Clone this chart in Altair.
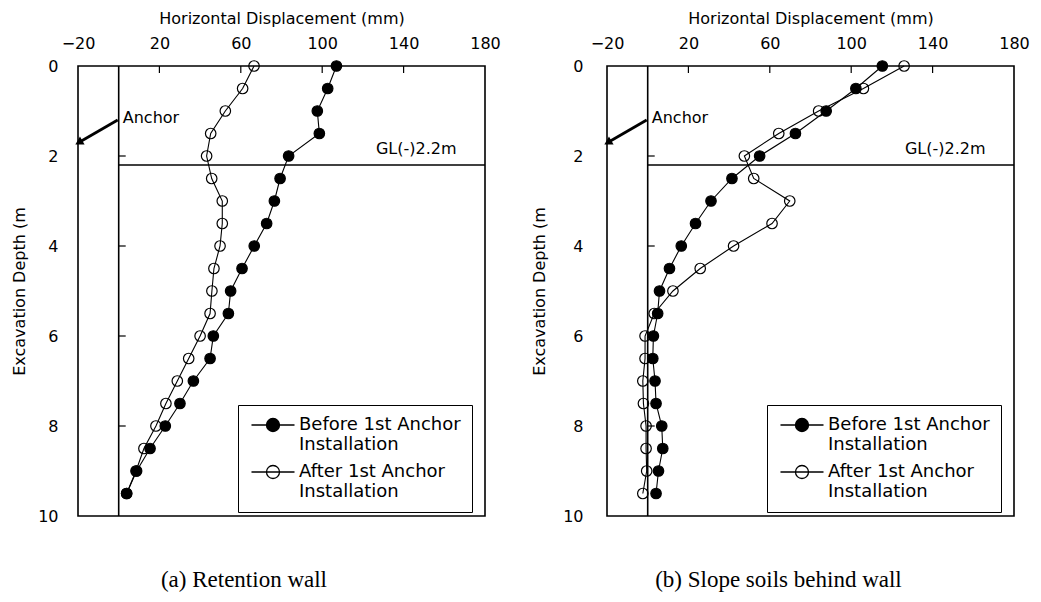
import altair as alt
import pandas as pd

# Depth of each inclinometer reading (m)
depth = [0.0, 0.5, 1.0, 1.5, 2.0, 2.5, 3.0, 3.5, 4.0, 4.5,
         5.0, 5.5, 6.0, 6.5, 7.0, 7.5, 8.0, 8.5, 9.0, 9.5]

# Horizontal displacement (mm) -- retention wall
wall_before = [107.0, 102.7, 97.6, 98.6, 83.5, 79.3, 76.5, 72.7, 66.6, 60.6,
               55.0, 53.9, 46.5, 44.9, 36.7, 30.1, 22.9, 15.4, 8.8, 3.9]
wall_after = [66.5, 60.9, 52.4, 45.2, 43.2, 45.7, 50.9, 50.9, 49.8, 46.8,
              45.8, 44.9, 40.0, 34.4, 28.8, 23.2, 18.3, 12.4, 8.5, 3.9]

# Horizontal displacement (mm) -- slope soils behind the wall
slope_before = [115.3, 102.3, 87.7, 72.6, 55.0, 41.4, 31.1, 23.5, 16.5, 10.7,
                5.8, 4.9, 2.8, 2.5, 3.6, 4.1, 6.9, 7.4, 5.3, 4.1]
slope_after = [126.0, 106.0, 84.0, 64.4, 47.5, 52.1, 69.8, 61.1, 42.2, 25.8,
               12.4, 3.2, -1.3, -1.3, -2.4, -2.1, -0.8, -0.8, -0.5, -2.4]

series_names = ["Before 1st Anchor Installation", "After 1st Anchor Installation"]

x_labels = [-20, 20, 60, 100, 140, 180]
x_ticks = [20, 60, 100, 140]
y_labels = [0, 2, 4, 6, 8, 10]
y_ticks = [2, 4, 6, 8]

excavation_level = 2.2          # GL(-)2.2m
anchor_tail = (-0.5, 1.2)       # (displacement, depth)
anchor_tip = (-19.6, 1.70)
anchor_text_pos = (2.0, 1.16)
gl_text_pos = (166.0, 1.84)

FONT = "DejaVu Sans"
SYMBOL = "M-1,0L5.6,0M3.3,0A1,1,0,1,1,1.3,0A1,1,0,1,1,3.3,0Z"


def panel(before, after, caption, label_pad, title_pad, caption_dx):
    rows = []
    # open circles first so the filled ones sit on top
    for name, vals in ((series_names[1], after), (series_names[0], before)):
        for d, v in zip(depth, vals):
            rows.append({"series": name, "depth": d, "disp": v})
    df = pd.DataFrame(rows)

    xs = alt.Scale(domain=[-20, 180], nice=False, zero=False)
    ys = alt.Scale(domain=[0, 10], nice=False, reverse=True)

    x_axis = alt.Axis(orient="top", values=x_labels, format="d",
                      title="Horizontal Displacement (mm)",
                      labelPadding=15, titlePadding=9, labelFlush=False,
                      labelOverlap=False, ticks=False, domain=False, grid=False)
    y_axis = alt.Axis(values=y_labels, format="d", title="Excavation Depth (m",
                      labelPadding=label_pad, titlePadding=title_pad,
                      labelFlush=False, labelOverlap=False, ticks=False,
                      domain=False, grid=False, titleFontSize=16)

    lines = alt.Chart(df).mark_line(color="black", strokeWidth=1.1).encode(
        x=alt.X("disp:Q", scale=xs, axis=x_axis),
        y=alt.Y("depth:Q", scale=ys, axis=y_axis),
        detail="series:N",
        order="depth:Q",
    )

    points = alt.Chart(df).mark_point(
        color="black", size=110, strokeWidth=1.2, opacity=1
    ).encode(
        x="disp:Q",
        y="depth:Q",
        fill=alt.Fill(
            "series:N",
            scale=alt.Scale(domain=series_names, range=["black", "transparent"]),
            sort=series_names,
            legend=alt.Legend(
                title=None, orient="none", legendX=160, legendY=339,
                symbolType=SYMBOL, symbolSize=170, symbolStrokeColor="black",
                symbolStrokeWidth=1.3, symbolOpacity=1,
                labelExpr="[replace(datum.label, ' Installation', ''), 'Installation']",
                labelFont=FONT, labelFontSize=18,
                labelColor="black", labelOffset=32, labelLimit=400,
                labelBaseline="middle",
                rowPadding=8, padding=11, strokeColor="black",
                fillColor="white",
            ),
        ),
    )

    wall = alt.Chart(pd.DataFrame({"disp": [0], "depth": [0], "depth2": [10]})).mark_rule(
        color="black", strokeWidth=1.6
    ).encode(x="disp:Q", y="depth:Q", y2="depth2:Q")

    gl_line = alt.Chart(
        pd.DataFrame({"disp": [0], "disp2": [180], "depth": [excavation_level]})
    ).mark_rule(color="black", strokeWidth=1.5).encode(
        x="disp:Q", x2="disp2:Q", y="depth:Q"
    )

    top_ticks = alt.Chart(pd.DataFrame({"disp": x_ticks, "depth": [0] * len(x_ticks)})).mark_rule(
        color="black", strokeWidth=1.2, y2Offset=7
    ).encode(x="disp:Q", y="depth:Q", y2="depth:Q")

    wall_ticks = alt.Chart(pd.DataFrame({"disp": [0] * len(y_ticks), "depth": y_ticks})).mark_rule(
        color="black", strokeWidth=1.2, x2Offset=7
    ).encode(x="disp:Q", x2="disp:Q", y="depth:Q")

    arrow = alt.Chart(pd.DataFrame({
        "disp": [anchor_tail[0]], "depth": [anchor_tail[1]],
        "disp2": [anchor_tip[0]], "depth2": [anchor_tip[1]],
    })).mark_rule(color="black", strokeWidth=2.8).encode(
        x="disp:Q", y="depth:Q", x2="disp2:Q", y2="depth2:Q"
    )

    arrow_head = alt.Chart(pd.DataFrame({"disp": [anchor_tip[0]], "depth": [anchor_tip[1]]})).mark_point(
        shape="triangle-right", angle=150, size=85, filled=True, color="black", opacity=1
    ).encode(x="disp:Q", y="depth:Q")

    anchor_label = alt.Chart(pd.DataFrame({
        "disp": [anchor_text_pos[0]], "depth": [anchor_text_pos[1]], "t": ["Anchor"]
    })).mark_text(font=FONT, fontSize=16, align="left", baseline="middle", color="black").encode(
        x="disp:Q", y="depth:Q", text="t:N"
    )

    gl_label = alt.Chart(pd.DataFrame({
        "disp": [gl_text_pos[0]], "depth": [gl_text_pos[1]], "t": ["GL(-)2.2m"]
    })).mark_text(font=FONT, fontSize=16, align="right", baseline="middle", color="black").encode(
        x="disp:Q", y="depth:Q", text="t:N"
    )

    return alt.layer(
        wall, gl_line, top_ticks, wall_ticks, lines, points,
        arrow, arrow_head, anchor_label, gl_label,
    ).properties(
        width=407, height=450,
        title=alt.TitleParams(
            caption, orient="bottom", anchor="middle", frame="bounds",
            font="Liberation Serif", fontSize=23, fontWeight="normal",
            color="black", offset=45, dx=caption_dx,
        ),
    )


left = panel(wall_before, wall_after, "(a) Retention wall", 20, 10, -12)
right = panel(slope_before, slope_after, "(b) Slope soils behind wall", 24, 15, -2)

chart = alt.hconcat(left, right, spacing=122, bounds="flush").resolve_scale(
    fill="independent"
).properties(
    padding={"left": 10, "top": 9, "right": 5, "bottom": 5},
    background="white",
).configure_view(
    stroke="black", strokeWidth=1.6
).configure_axis(
    labelFont=FONT, labelFontSize=16, labelColor="black",
    titleFont=FONT, titleFontSize=16, titleFontWeight="normal", titleColor="black",
)

chart.save("out.html", embed_options={"renderer": "svg", "actions": False})
